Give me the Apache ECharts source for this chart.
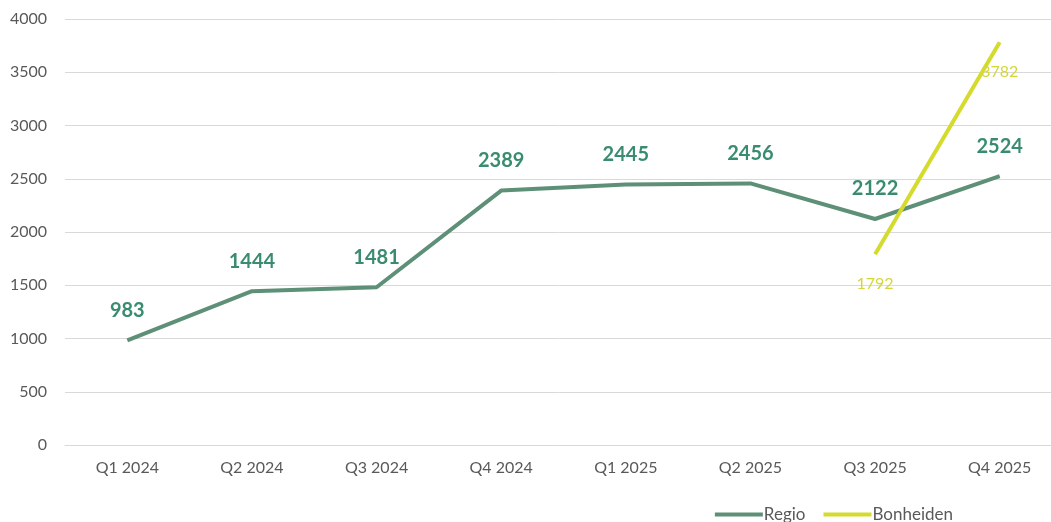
<!DOCTYPE html>
<html><head><meta charset="utf-8">
<script src="https://cdn.jsdelivr.net/npm/echarts@6/dist/echarts.min.js"></script>
<style>html,body{margin:0;padding:0;background:#fff}#c{width:1051px;height:522px}</style>
</head><body><div id="c"></div>
<script>
const categories = ['Q1 2024','Q2 2024','Q3 2024','Q4 2024','Q1 2025','Q2 2025','Q3 2025','Q4 2025'];
const regio = [983,1444,1481,2389,2445,2456,2122,2524];
const bonheiden = [null,null,null,null,null,null,1792,3782];
const yTicks = [0,500,1000,1500,2000,2500,3000,3500,4000];
const FONT = 'Lato';
const chart = echarts.init(document.getElementById('c'));
chart.setOption({
  animation:false,
  textStyle:{fontFamily:FONT},
  grid:{left:65,width:997,top:19,bottom:77,containLabel:false,outerBoundsMode:'none'},
  legend:{bottom:-6,right:93,itemWidth:48,itemHeight:4,itemGap:18,icon:'rect',
    textStyle:{color:'#595959',fontSize:17,fontFamily:FONT,padding:[0,0,0,-4]},
    data:['Regio','Bonheiden']},
  xAxis:{type:'category',data:categories,boundaryGap:true,
    axisLine:{show:true,lineStyle:{color:'#d9d9d9',width:1}},axisTick:{show:false},
    axisLabel:{color:'#595959',fontSize:16,margin:15,fontFamily:FONT}},
  yAxis:{type:'value',min:yTicks[0],max:yTicks[yTicks.length-1],interval:500,
    axisLine:{show:false},axisTick:{show:false},
    splitLine:{lineStyle:{color:'#d9d9d9',width:1}},
    axisLabel:{color:'#595959',fontSize:16,margin:18,fontFamily:FONT,formatter:v=>String(v)}},
  series:[
    {name:'Regio',type:'line',data:regio,symbol:'circle',symbolSize:0,showSymbol:true,
     lineStyle:{color:'#5e9078',width:4},itemStyle:{color:'#5e9078'},
     label:{show:true,position:'top',distance:20,color:'#3a8c6e',fontSize:20,fontWeight:'bold',fontFamily:FONT}},
    {name:'Bonheiden',type:'line',data:bonheiden,symbol:'circle',symbolSize:0,showSymbol:true,
     lineStyle:{color:'#d4db2c',width:4},itemStyle:{color:'#d4db2c'},
     label:{show:true,position:'bottom',distance:22,color:'#d4d63a',fontSize:16,fontFamily:FONT}}
  ]
});
</script></body></html>
